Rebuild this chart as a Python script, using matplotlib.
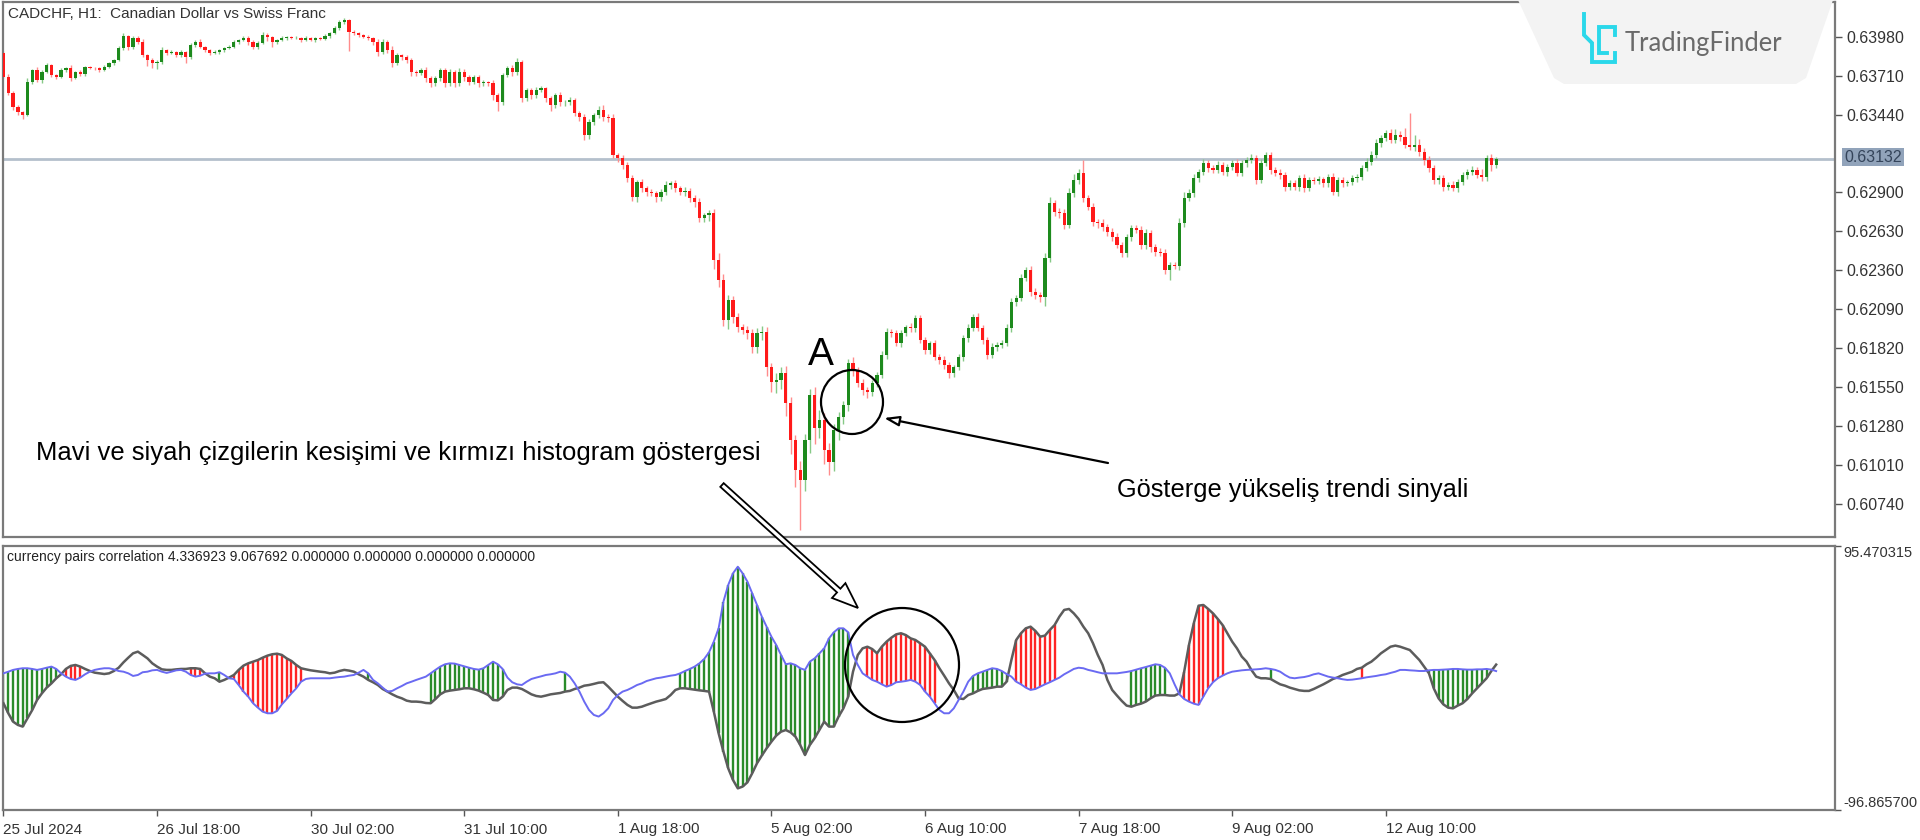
import numpy as np
import matplotlib
matplotlib.use('Agg')
import matplotlib.pyplot as plt
import matplotlib.patches as patches
from matplotlib import font_manager as fm

# --- CADCHF H1, ceny w punktach (1 punkt = 0.00001)
first_open = 63867
close_pts = [
    63701, 63590, 63492, 63458, 63437, 63666, 63749, 63680, 63735, 63784,
    63715, 63701, 63749, 63763, 63694, 63735, 63721, 63770, 63763, 63760,
    63749, 63770, 63798, 63819, 63902, 63985, 63909, 63971, 63944, 63853,
    63819, 63798, 63805, 63888, 63867, 63874, 63853, 63874, 63839, 63923,
    63944, 63909, 63888, 63867, 63874, 63888, 63902, 63909, 63944, 63957,
    63971, 63944, 63909, 63937, 63992, 63978, 63944, 63957, 63971, 63978,
    63971, 63972, 63957, 63971, 63957, 63971, 63964, 63985, 64006, 64041,
    64082, 64096, 64013, 64006, 63992, 63978, 63971, 63944, 63874, 63944,
    63888, 63798, 63853, 63839, 63819, 63735, 63728, 63749, 63694, 63659,
    63694, 63749, 63659, 63735, 63659, 63735, 63701, 63666, 63701, 63659,
    63666, 63659, 63576, 63527, 63715, 63763, 63735, 63805, 63555, 63610,
    63576, 63610, 63624, 63555, 63506, 63576, 63527, 63530, 63541, 63451,
    63423, 63298, 63388, 63437, 63472, 63423, 63416, 63159, 63138, 63090,
    63000, 62868, 62972, 62930, 62903, 62896, 62868, 62903, 62951, 62965,
    62930, 62903, 62910, 62861, 62833, 62722, 62743, 62757, 62431, 62292,
    62014, 62153, 62035, 61966, 61945, 61924, 61827, 61924, 61931, 61688,
    61584, 61598, 61646, 61438, 61181, 60973, 60904, 61181, 61494, 61265,
    61320, 61112, 61029, 61251, 61341, 61424, 61716, 61667, 61577, 61528,
    61515, 61577, 61633, 61771, 61931, 61924, 61855, 61924, 61966, 61959,
    62028, 61875, 61806, 61855, 61757, 61737, 61702, 61646, 61688, 61757,
    61889, 61959, 62035, 61959, 61875, 61771, 61827, 61841, 61855, 61959,
    62139, 62167, 62306, 62361, 62209, 62188, 62174, 62445, 62826, 62764,
    62757, 62674, 62896, 62986, 63034, 62861, 62798, 62694, 62690, 62660,
    62625, 62590, 62535, 62479, 62590, 62653, 62639, 62535, 62618, 62521,
    62486, 62479, 62361, 62396, 62390, 62687, 62861, 62896, 63000, 63041,
    63104, 63069, 63055, 63090, 63041, 63076, 63104, 63034, 63104, 63125,
    63138, 62986, 63104, 63159, 63055, 63034, 63021, 62937, 62965, 62937,
    63000, 62930, 62986, 62980, 62990, 62965, 63007, 62903, 62986, 62965,
    62972, 63000, 63007, 63069, 63111, 63159, 63243, 63277, 63312, 63263,
    63298, 63284, 63229, 63215, 63229, 63180, 63125, 63069, 62986, 63000,
    62937, 62951, 62930, 62972, 63021, 63041, 63055, 63021, 63007, 63138,
    63090, 63132,
]
# cienie świec (punkty ponad / pod korpusem)
wick_up = [
    15, 20, 10, 12, 8, 25, 10, 20, 12, 15, 10, 8, 14, 10, 18, 9, 12, 10, 8, 10, 9, 12, 10, 8, 15, 20,
    10, 14, 12, 18, 10, 15, 12, 20, 10, 12, 8, 14, 10, 12, 15, 18, 10, 8, 12, 10, 9, 12, 14, 10, 12, 15,
    10, 12, 20, 12, 10, 8, 12, 10, 9, 10, 8, 12, 10, 9, 8, 12, 10, 14, 12, 15, 10, 12, 10, 8, 12, 10,
    18, 20, 15, 25, 12, 10, 14, 10, 15, 12, 20, 10, 15, 14, 12, 20, 15, 25, 22, 12, 15, 10, 12, 10, 18, 12,
    15, 12, 20, 25, 10, 15, 12, 20, 14, 10, 12, 15, 18, 10, 22, 12, 15, 20, 18, 14, 30, 35, 20, 25, 15, 20,
    18, 22, 15, 20, 14, 18, 12, 20, 25, 15, 18, 12, 30, 22, 20, 25, 15, 20, 30, 45, 40, 35, 25, 30, 20, 25,
    30, 35, 40, 35, 30, 45, 40, 50, 40, 35, 60, 45, 40, 55, 70, 50, 45, 40, 35, 30, 25, 40, 20, 25, 18, 22,
    20, 25, 30, 18, 22, 20, 15, 25, 20, 18, 22, 15, 20, 18, 25, 20, 15, 22, 18, 25, 20, 30, 22, 18, 25, 20,
    20, 25, 30, 18, 25, 22, 30, 25, 20, 35, 40, 20, 25, 30, 35, 40, 25, 90, 20, 25, 18, 22, 20, 25, 30, 20,
    22, 18, 20, 25, 30, 22, 20, 25, 30, 22, 18, 35, 40, 25, 30, 22, 25, 18, 20, 25, 18, 22, 20, 25, 18, 20,
    25, 20, 30, 22, 20, 18, 25, 20, 22, 18, 20, 25, 18, 22, 20, 15, 20, 25, 18, 20, 15, 18, 20, 22, 25, 30,
    25, 20, 22, 30, 45, 25, 60, 222, 70, 40, 30, 25, 20, 22, 18, 20, 25, 18, 22, 20, 25, 18, 40, 20, 25, 15,
]
wick_dn = [
    10, 15, 20, 18, 25, 10, 15, 12, 18, 10, 12, 15, 10, 12, 20, 10, 12, 15, 10, 8, 12, 10, 8, 12, 10, 15,
    20, 15, 12, 15, 40, 35, 45, 12, 15, 10, 12, 15, 40, 12, 15, 10, 14, 12, 10, 15, 12, 10, 8, 12, 10, 18,
    15, 12, 10, 25, 35, 15, 10, 12, 8, 10, 12, 10, 9, 12, 10, 8, 12, 10, 15, 12, 130, 15, 12, 10, 15, 20,
    25, 15, 20, 30, 15, 18, 20, 30, 20, 15, 25, 30, 20, 18, 25, 20, 30, 18, 25, 20, 15, 30, 18, 20, 35, 60,
    20, 15, 25, 18, 30, 20, 25, 20, 15, 25, 40, 20, 25, 30, 22, 20, 25, 35, 25, 18, 20, 25, 30, 20, 25, 30,
    25, 30, 35, 25, 30, 20, 35, 25, 20, 30, 25, 20, 25, 30, 35, 25, 30, 40, 60, 50, 45, 60, 40, 35, 30, 40,
    45, 40, 50, 60, 70, 80, 60, 90, 100, 120, 347, 80, 90, 110, 70, 100, 90, 60, 70, 50, 40, 45, 30, 35, 40, 30,
    25, 20, 25, 30, 20, 25, 22, 30, 25, 20, 25, 30, 20, 25, 30, 35, 25, 20, 30, 25, 20, 18, 25, 30, 20, 25,
    20, 18, 25, 30, 22, 20, 30, 25, 35, 60, 25, 30, 35, 25, 20, 25, 30, 25, 20, 30, 35, 25, 30, 25, 20, 30,
    25, 30, 20, 25, 30, 35, 25, 20, 30, 70, 25, 30, 25, 20, 30, 25, 20, 25, 18, 22, 20, 25, 18, 22, 20, 25,
    20, 25, 22, 18, 25, 20, 30, 25, 20, 22, 25, 30, 20, 25, 22, 30, 25, 20, 30, 25, 20, 22, 25, 20, 18, 22,
    20, 25, 18, 22, 20, 25, 22, 20, 25, 30, 35, 30, 25, 30, 25, 20, 22, 25, 20, 25, 22, 20, 25, 30, 40, 20,
]

# --- wskaźnik "currency pairs correlation"
blue_line = [
    2.7, 3.9, 5.2, 5.9, 6.4, 6.4, 5.9, 5.2, 5.9, 6.8,
    7.6, 5.9, 2.7, 0.3, -1.4, -2.1, -0.4, 2.0, 3.9, 5.2,
    5.9, 6.4, 6.4, 5.6, 4.4, 3.9, 2.7, 0.8, 1.5, 3.5,
    3.9, 4.9, 5.2, 3.9, 3.0, 3.9, 4.9, 5.2, 3.9, 1.5,
    0.3, 1.0, 2.5, 2.7, 2.7, 3.5, 1.5, -0.9, -1.4, -5.8,
    -10.6, -14.3, -19.1, -22.3, -25.2, -26.4, -26.4, -24.7, -19.9, -16.0,
    -11.9, -8.2, -3.4, -1.4, -0.9, -0.9, -0.9, -0.9, -0.9, -0.4,
    0.0, 0.3, 1.0, 1.5, 3.2, 5.2, 2.7, -2.1, -4.6, -7.7,
    -10.6, -10.1, -8.2, -6.5, -4.6, -3.4, -2.1, -0.9, 0.3, 2.7,
    5.2, 7.6, 9.3, 10.0, 9.8, 8.8, 7.8, 6.8, 5.9, 5.4,
    6.4, 8.8, 11.2, 9.3, 5.9, -0.4, -3.8, -5.3, -5.8, -3.4,
    -1.4, -0.4, 0.5, 1.5, 2.0, 2.7, 3.9, 3.2, 0.3, -4.6,
    -10.6, -17.9, -24.0, -27.6, -28.8, -26.4, -22.8, -16.7, -13.1, -10.6,
    -9.4, -7.7, -5.8, -4.6, -2.9, -1.9, -0.9, -0.4, 0.3, 1.0,
    1.5, 2.7, 4.4, 5.9, 7.6, 10.0, 13.2, 18.0, 25.8, 35.5,
    54.9, 67.1, 75.6, 80.4, 75.6, 69.5, 61.0, 52.5, 44.0, 36.7,
    29.4, 23.4, 16.1, 9.3, 10.0, 8.8, 6.4, 5.2, 11.2, 13.6,
    17.3, 20.9, 28.2, 32.6, 35.5, 35.5, 32.6, 16.1, 8.8, 2.7,
    0.3, -2.1, -3.4, -5.3, -7.0, -5.8, -3.8, -3.4, -2.9, -2.1,
    -3.4, -5.8, -10.6, -14.3, -19.1, -24.0, -26.4, -26.4, -22.8, -16.7,
    -10.6, -3.4, 0.8, 2.7, 3.9, 5.2, 6.4, 5.9, 4.4, 2.2,
    0.3, -3.4, -5.3, -7.7, -9.4, -8.7, -7.0, -5.3, -3.8, -2.1,
    -0.4, 2.0, 3.9, 5.9, 6.8, 6.4, 5.2, 4.4, 3.5, 2.7,
    2.7, 2.7, 2.7, 3.2, 3.7, 4.4, 5.4, 6.4, 7.3, 8.3,
    9.3, 8.8, 6.8, 2.7, -5.3, -12.6, -16.0, -17.9, -19.4, -20.3,
    -14.3, -8.2, -3.8, -0.9, 1.0, 2.7, 3.9, 4.4, 4.9, 5.2,
    5.4, 5.6, 5.9, 6.4, 5.9, 5.2, 3.9, 1.5, -0.4, -0.9,
    -0.4, 0.0, 0.8, 2.0, 2.7, 1.5, 0.3, -0.4, -0.9, -1.6,
    -2.1, -1.9, -1.4, -0.9, -0.2, 0.3, 0.8, 1.5, 2.0, 3.0,
    3.9, 5.2, 5.2, 4.9, 4.7, 4.4, 4.4, 4.9, 5.2, 5.2,
    5.4, 5.6, 5.9, 5.9, 5.6, 5.4, 5.4, 5.6, 5.6, 5.9,
    5.4, 4.336923,
]
black_line = [
    -19.1, -26.4, -32.5, -34.9, -36.1, -30.1, -24.0, -16.7, -11.9, -7.7,
    -4.6, -0.9, 2.0, 5.9, 8.1, 8.8, 7.6, 5.9, 4.4, 3.2,
    2.7, 2.2, 2.7, 4.4, 6.8, 10.7, 14.1, 17.3, 18.5, 16.1,
    13.6, 10.0, 7.6, 5.6, 5.2, 5.2, 5.6, 5.9, 5.9, 6.4,
    6.4, 5.9, 2.7, 0.3, -0.9, -3.4, -2.1, -0.4, 1.5, 5.2,
    8.3, 10.0, 11.2, 12.4, 14.1, 15.6, 16.6, 17.0, 16.1, 13.6,
    11.7, 8.8, 6.4, 5.6, 4.9, 4.4, 3.9, 3.5, 2.7, 3.2,
    4.4, 5.2, 4.7, 3.9, 2.0, 0.3, -2.1, -3.8, -5.8, -8.7,
    -10.6, -12.6, -14.3, -15.5, -17.2, -17.9, -17.9, -18.2, -18.9, -19.1,
    -16.0, -12.6, -10.6, -9.9, -9.4, -8.9, -8.2, -8.2, -8.9, -9.9,
    -11.4, -13.1, -16.7, -17.0, -14.3, -9.4, -7.7, -7.7, -8.7, -10.6,
    -12.6, -13.8, -14.3, -13.5, -12.6, -12.1, -11.6, -10.6, -10.1, -8.7,
    -7.7, -6.3, -5.8, -5.0, -4.1, -3.8, -7.0, -10.6, -14.3, -17.4,
    -20.3, -22.3, -22.3, -21.6, -20.3, -19.1, -17.9, -17.0, -16.0, -13.1,
    -9.4, -8.2, -8.2, -8.7, -9.2, -9.7, -10.1, -10.6, -25.2, -41.0,
    -54.3, -66.5, -75.0, -81.1, -79.8, -76.7, -70.1, -62.8, -57.2, -51.9,
    -47.1, -42.7, -39.8, -38.6, -40.3, -43.4, -49.5, -56.8, -49.5, -44.6,
    -38.6, -32.5, -36.1, -36.1, -28.8, -22.8, -14.3, 3.9, 16.1, 20.9,
    22.1, 20.4, 17.3, 22.1, 25.8, 28.7, 31.1, 31.9, 30.6, 28.2,
    27.0, 24.6, 22.1, 17.3, 12.4, 6.4, 1.0, -4.6, -9.4, -15.5,
    -16.0, -13.1, -11.9, -10.1, -8.7, -8.2, -7.7, -7.0, -7.0, -3.4,
    12.4, 27.0, 31.9, 35.5, 36.7, 33.6, 29.4, 30.2, 34.3, 37.9,
    44.0, 48.9, 49.6, 46.4, 42.3, 36.7, 31.9, 24.6, 16.1, 8.8,
    -2.1, -9.4, -13.5, -17.4, -20.8, -21.6, -20.3, -19.4, -17.9, -15.5,
    -13.5, -13.1, -13.1, -13.5, -13.5, -11.9, 3.9, 23.4, 39.1, 52.0,
    52.5, 49.6, 46.4, 42.3, 37.9, 31.9, 25.8, 20.9, 14.9, 11.2,
    5.2, 0.3, -0.9, -0.9, -1.4, -3.4, -5.3, -6.3, -7.7, -8.7,
    -9.7, -10.1, -10.1, -8.7, -7.0, -5.3, -3.4, -1.4, -0.2, 1.5,
    2.7, 3.9, 5.9, 6.8, 9.3, 11.2, 14.1, 17.3, 19.7, 22.1,
    22.9, 22.1, 20.9, 19.7, 16.1, 12.4, 7.6, 2.7, -8.2, -15.5,
    -19.9, -22.3, -22.8, -20.8, -19.1, -16.0, -11.9, -8.2, -4.6, -0.9,
    4.4, 9.067692,
]
# zakresy słupków histogramu (indeksy świec)
green_ranges = [(0, 12), (45, 45), (76, 76), (89, 104), (117, 117), (141, 176),
                (202, 209), (235, 242), (264, 264), (297, 309)]
red_ranges = [(13, 16), (39, 41), (48, 62), (180, 194), (211, 219), (246, 254), (283, 283)]

price_ticks = [0.63980, 0.63710, 0.63440, 0.62900, 0.62630, 0.62360, 0.62090,
               0.61820, 0.61550, 0.61280, 0.61010, 0.60740]
last_price = 0.63132
date_ticks = [0, 32, 64, 96, 128, 160, 192, 224, 256, 288]
date_labels = ['25 Jul 2024', '26 Jul 18:00', '30 Jul 02:00', '31 Jul 10:00', '1 Aug 18:00',
               '5 Aug 02:00', '6 Aug 10:00', '7 Aug 18:00', '9 Aug 02:00', '12 Aug 10:00']
ind_min, ind_max = -96.865700, 95.470315


def font_ok(name):
    try:
        fm.findfont(fm.FontProperties(family=name), fallback_to_default=False)
        return True
    except ValueError:
        return False


plt.rcParams['font.family'] = ['Liberation Sans', 'DejaVu Sans']

W, H = 1920, 840
fig = plt.figure(figsize=(W / 100, H / 100), dpi=100)
fig.patch.set_facecolor('white')


def px_axes(x0, y0, x1, y1, **kw):
    return fig.add_axes([x0 / W, 1 - y1 / H, (x1 - x0) / W, (y1 - y0) / H], **kw)


ax = px_axes(3, 2, 1835, 537)
ax2 = px_axes(3, 546, 1835, 810)

# --- świece
closes = np.array(close_pts) / 1e5
opens = np.concatenate([[first_open], close_pts[:-1]]) / 1e5
idx = np.arange(len(closes))
top = np.maximum(opens, closes)
bot = np.minimum(opens, closes)
highs = top + np.array(wick_up) / 1e5
lows = bot - np.array(wick_dn) / 1e5
up = closes >= opens
ax.axhline(last_price, color='#b4c0cc', lw=2, zorder=1)
ax.vlines(idx, lows, highs, colors=np.where(up, '#86c986', '#ff8c8c'), lw=1.0, zorder=2)
ax.bar(idx, np.maximum(top - bot, 0.00003), bottom=bot, width=0.68,
       color=np.where(up, '#1d8a1d', '#ff1a1a'), lw=0, zorder=3)

ax.set_xlim(-0.1, 381.6)
ax.set_ylim(0.60508, 0.64221)
ax.set_xticks([])
ax.yaxis.tick_right()
ax.set_yticks(price_ticks)
ax.set_yticklabels([f'{p:.5f}' for p in price_ticks])
ax.tick_params(axis='y', direction='out', length=5, width=1, color='#555',
               labelsize=11.5, labelcolor='#333', pad=3)

# --- panel wskaźnika
b = np.array(blue_line)
k = np.array(black_line)
for s, e in green_ranges:
    j = np.arange(s, e + 1)
    ax2.vlines(j, k[j], b[j], colors='#2a8c2a', lw=1.7, zorder=2)
for s, e in red_ranges:
    j = np.arange(s, e + 1)
    ax2.vlines(j, k[j], b[j], colors='#ff2424', lw=1.7, zorder=2)
ax2.plot(idx, k, color='#5c5c5c', lw=1.8, zorder=3)
ax2.plot(idx, b, color='#6a6af2', lw=1.4, zorder=4)

ax2.set_xlim(-0.1, 381.6)
ax2.set_ylim(ind_min, ind_max)
ax2.yaxis.tick_right()
ax2.set_yticks([ind_min, ind_max])
ax2.set_yticklabels([f'{ind_min:.6f}', f'{ind_max:.6f}'])
for lab, va in zip(ax2.get_yticklabels(), ['bottom', 'top']):
    lab.set_va(va)
ax2.tick_params(axis='y', direction='out', length=4, width=1, color='#555',
                labelsize=10.5, labelcolor='#333', pad=2)
ax2.set_xticks(date_ticks)
ax2.set_xticklabels(date_labels, ha='left')
ax2.tick_params(axis='x', direction='out', length=4, width=1, color='#555',
                labelsize=11, labelcolor='#333', pad=5)

for a in (ax, ax2):
    for sp in a.spines.values():
        sp.set_color('#7a7a7a')
        sp.set_linewidth(1.6)

# --- nakładka w pikselach: napisy, strzałki, logo
ov = fig.add_axes([0, 0, 1, 1], zorder=10)
ov.set_xlim(0, W)
ov.set_ylim(H, 0)
ov.axis('off')

ov.text(8, 14, 'CADCHF, H1:  Canadian Dollar vs Swiss Franc', fontsize=11,
        color='#333', va='center')
ov.text(7, 557, f'currency pairs correlation {blue_line[-1]:.6f} {black_line[-1]:.6f} '
        '0.000000 0.000000 0.000000 0.000000', fontsize=10, color='#222', va='center')

# cena bieżąca
ov.text(1873, 157, f'{last_price:.5f}', fontsize=11.5, color='#34445a', ha='center', va='center',
        bbox=dict(boxstyle='square,pad=0.12', fc='#91a3ba', ec='none'))

# logo
ov.add_patch(patches.Polygon([(1518, 0), (1833, 0), (1806, 78), (1796, 84), (1564, 84), (1554, 78)],
                             closed=True, fc='#f3f3f3', ec='none'))
cyan = '#2ad8ea'
ov.plot([1584, 1584, 1592, 1592, 1615, 1615], [14, 35, 43, 62, 62, 53], color=cyan, lw=2.8,
        solid_joinstyle='miter')
ov.plot([1615, 1615, 1599, 1599, 1607], [35, 27, 27, 53, 53], color=cyan, lw=2.8,
        solid_joinstyle='miter')
logo = ov.text(1625, 43, 'TradingFinder', fontsize=16, color='#6a6a6a', va='center', family='Lato')

# adnotacje
narrow = font_ok('Liberation Sans Narrow')
ann_family = 'Liberation Sans Narrow' if narrow else 'Liberation Sans'
t1 = ov.text(36, 453, 'Mavi ve siyah çizgilerin kesişimi ve kırmızı histogram göstergesi',
             fontsize=20, va='center', color='black', family=ann_family)
t2 = ov.text(1117, 490, 'Gösterge yükseliş trendi sinyali',
             fontsize=20, va='center', color='black', family=ann_family)
fig.canvas.draw()
for t, target in ((t1, 724), (t2, 350), (logo, 159)):
    w = t.get_window_extent().width
    t.set_fontsize(t.get_fontsize() * target / w)

ov.text(821, 355, 'A', fontsize=28, ha='center', va='center', color='black')
ov.add_patch(patches.Ellipse((852, 402), 62, 64, fill=False, ec='black', lw=1.6))
ov.add_patch(patches.Ellipse((902, 665), 114, 114, fill=False, ec='black', lw=1.6))
ov.annotate('', xy=(884, 418), xytext=(1108, 463),
            arrowprops=dict(arrowstyle='-|>,head_length=0.9,head_width=0.3',
                            fc='white', ec='black', lw=1.6, shrinkA=0, shrinkB=0))
ov.add_patch(patches.FancyArrow(722, 485, 136, 123, width=5, length_includes_head=True,
                                head_width=20, head_length=26, fc='white', ec='black', lw=1.3))

fig.savefig('out.png', dpi=100)
